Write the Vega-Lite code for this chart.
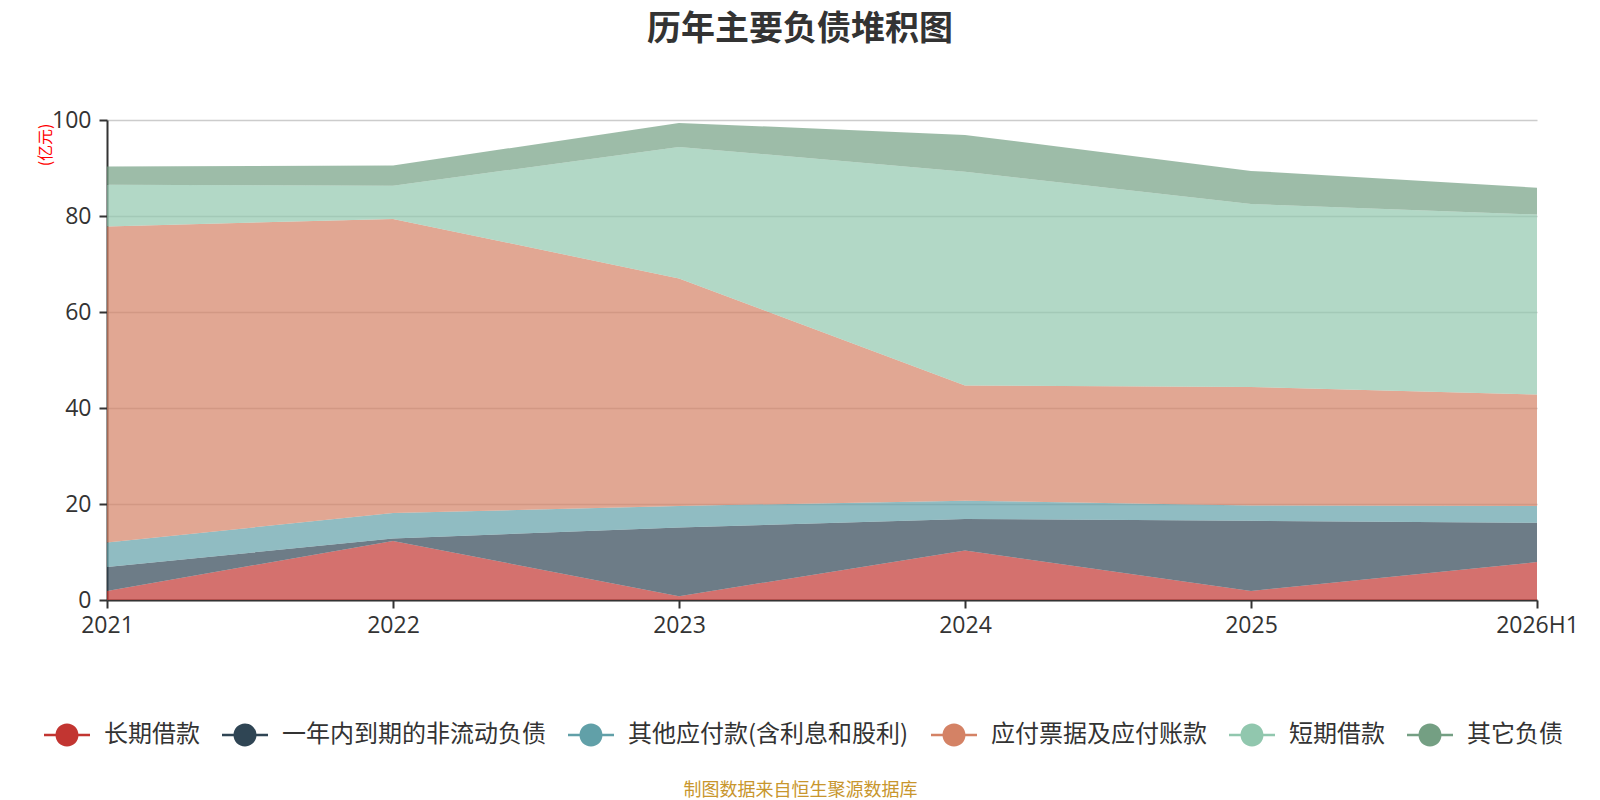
{
  "$schema": "https://vega.github.io/schema/vega-lite/v6.json",
  "description": "历年主要负债堆积图",
  "autosize": {"type": "none"},
  "padding": {"left": 107, "top": 120, "right": 63, "bottom": 200},
  "width": 1430,
  "height": 480,
  "background": "#ffffff",
  "title": {
    "text": "历年主要负债堆积图",
    "fontSize": 34,
    "fontWeight": "bold",
    "color": "#333333",
    "anchor": "middle",
    "dx": -22,
    "offset": 62
  },
  "data": {
    "values": [
      {"year": "2021", "item": "长期借款", "value": 1.9},
      {"year": "2021", "item": "一年内到期的非流动负债", "value": 5.0},
      {"year": "2021", "item": "其他应付款(含利息和股利)", "value": 5.1},
      {"year": "2021", "item": "应付票据及应付账款", "value": 65.8},
      {"year": "2021", "item": "短期借款", "value": 8.7},
      {"year": "2021", "item": "其它负债", "value": 3.8},
      {"year": "2022", "item": "长期借款", "value": 12.3},
      {"year": "2022", "item": "一年内到期的非流动负债", "value": 0.5},
      {"year": "2022", "item": "其他应付款(含利息和股利)", "value": 5.3},
      {"year": "2022", "item": "应付票据及应付账款", "value": 61.3},
      {"year": "2022", "item": "短期借款", "value": 6.9},
      {"year": "2022", "item": "其它负债", "value": 4.2},
      {"year": "2023", "item": "长期借款", "value": 0.8},
      {"year": "2023", "item": "一年内到期的非流动负债", "value": 14.3},
      {"year": "2023", "item": "其他应付款(含利息和股利)", "value": 4.5},
      {"year": "2023", "item": "应付票据及应付账款", "value": 47.4},
      {"year": "2023", "item": "短期借款", "value": 27.4},
      {"year": "2023", "item": "其它负债", "value": 5.0},
      {"year": "2024", "item": "长期借款", "value": 10.3},
      {"year": "2024", "item": "一年内到期的非流动负债", "value": 6.6},
      {"year": "2024", "item": "其他应付款(含利息和股利)", "value": 3.8},
      {"year": "2024", "item": "应付票据及应付账款", "value": 24.0},
      {"year": "2024", "item": "短期借款", "value": 44.5},
      {"year": "2024", "item": "其它负债", "value": 7.7},
      {"year": "2025", "item": "长期借款", "value": 1.9},
      {"year": "2025", "item": "一年内到期的非流动负债", "value": 14.6},
      {"year": "2025", "item": "其他应付款(含利息和股利)", "value": 3.2},
      {"year": "2025", "item": "应付票据及应付账款", "value": 24.7},
      {"year": "2025", "item": "短期借款", "value": 38.1},
      {"year": "2025", "item": "其它负债", "value": 6.9},
      {"year": "2026H1", "item": "长期借款", "value": 7.9},
      {"year": "2026H1", "item": "一年内到期的非流动负债", "value": 8.2},
      {"year": "2026H1", "item": "其他应付款(含利息和股利)", "value": 3.5},
      {"year": "2026H1", "item": "应付票据及应付账款", "value": 23.2},
      {"year": "2026H1", "item": "短期借款", "value": 37.5},
      {"year": "2026H1", "item": "其它负债", "value": 5.6}
    ]
  },
  "transform": [
    {
      "calculate": "indexof(['长期借款', '一年内到期的非流动负债', '其他应付款(含利息和股利)', '应付票据及应付账款', '短期借款', '其它负债'], datum.item)",
      "as": "stack_rank"
    }
  ],
  "mark": {"type": "area", "fillOpacity": 0.7, "interpolate": "linear"},
  "encoding": {
    "x": {
      "field": "year",
      "type": "ordinal",
      "scale": {"type": "point", "padding": 0},
      "axis": {
        "title": "制图数据来自恒生聚源数据库",
        "titleColor": "#c8962d",
        "titleFont": "Noto Sans CJK SC",
        "titleFontSize": 18,
        "titleFontWeight": "normal",
        "titleX": 693,
        "titleY": 190,
        "titleAlign": "center",
        "titleBaseline": "middle",
        "labelAngle": 0,
        "labelFont": "Open Sans",
        "labelFontSize": 23,
        "labelColor": "#333333",
        "labelPadding": 6,
        "domainColor": "#333333",
        "domainWidth": 2,
        "tickColor": "#333333",
        "tickWidth": 2,
        "tickSize": 8,
        "grid": false
      }
    },
    "y": {
      "field": "value",
      "type": "quantitative",
      "stack": "zero",
      "scale": {"domain": [0, 100], "nice": false},
      "axis": {
        "title": "(亿元)",
        "titleColor": "#ff0000",
        "titleFont": "Noto Sans CJK SC",
        "titleFontSize": 16,
        "titleFontWeight": "normal",
        "titleAngle": 270,
        "titleX": -62,
        "titleY": 3,
        "titleAlign": "right",
        "titleBaseline": "middle",
        "values": [0, 20, 40, 60, 80, 100],
        "labelFont": "Open Sans",
        "labelFontSize": 23,
        "labelColor": "#333333",
        "labelPadding": 8,
        "domainColor": "#333333",
        "domainWidth": 2,
        "tickColor": "#333333",
        "tickWidth": 2,
        "tickSize": 8,
        "gridColor": "#cccccc",
        "gridWidth": 1.3
      }
    },
    "color": {
      "field": "item",
      "type": "nominal",
      "sort": ["长期借款", "一年内到期的非流动负债", "其他应付款(含利息和股利)", "应付票据及应付账款", "短期借款", "其它负债"],
      "scale": {
        "domain": ["长期借款", "一年内到期的非流动负债", "其他应付款(含利息和股利)", "应付票据及应付账款", "短期借款", "其它负债"],
        "range": ["#c23531", "#2f4554", "#61a0a8", "#d48265", "#91c7ae", "#749f83"]
      },
      "legend": {
        "title": null,
        "orient": "none",
        "direction": "horizontal",
        "legendX": -52,
        "legendY": 603,
        "padding": 0,
        "symbolType": "M-2,-0.11L-0.9,-0.11L-0.9,0.11L-2,0.11Z M0.9,-0.11L2,-0.11L2,0.11L0.9,0.11Z M1,0A1,1 0 1,1 -1,0A1,1 0 1,1 1,0Z",
        "symbolSize": 529,
        "symbolOpacity": 1,
        "symbolStrokeWidth": 0,
        "labelFont": "Noto Sans CJK SC",
        "labelFontSize": 24,
        "labelColor": "#333333",
        "labelOffset": 25,
        "labelLimit": 400,
        "columnPadding": 22
      }
    },
    "order": {"field": "stack_rank", "type": "quantitative", "sort": "ascending"}
  },
  "config": {
    "font": "Noto Sans CJK SC",
    "view": {"stroke": null}
  }
}
